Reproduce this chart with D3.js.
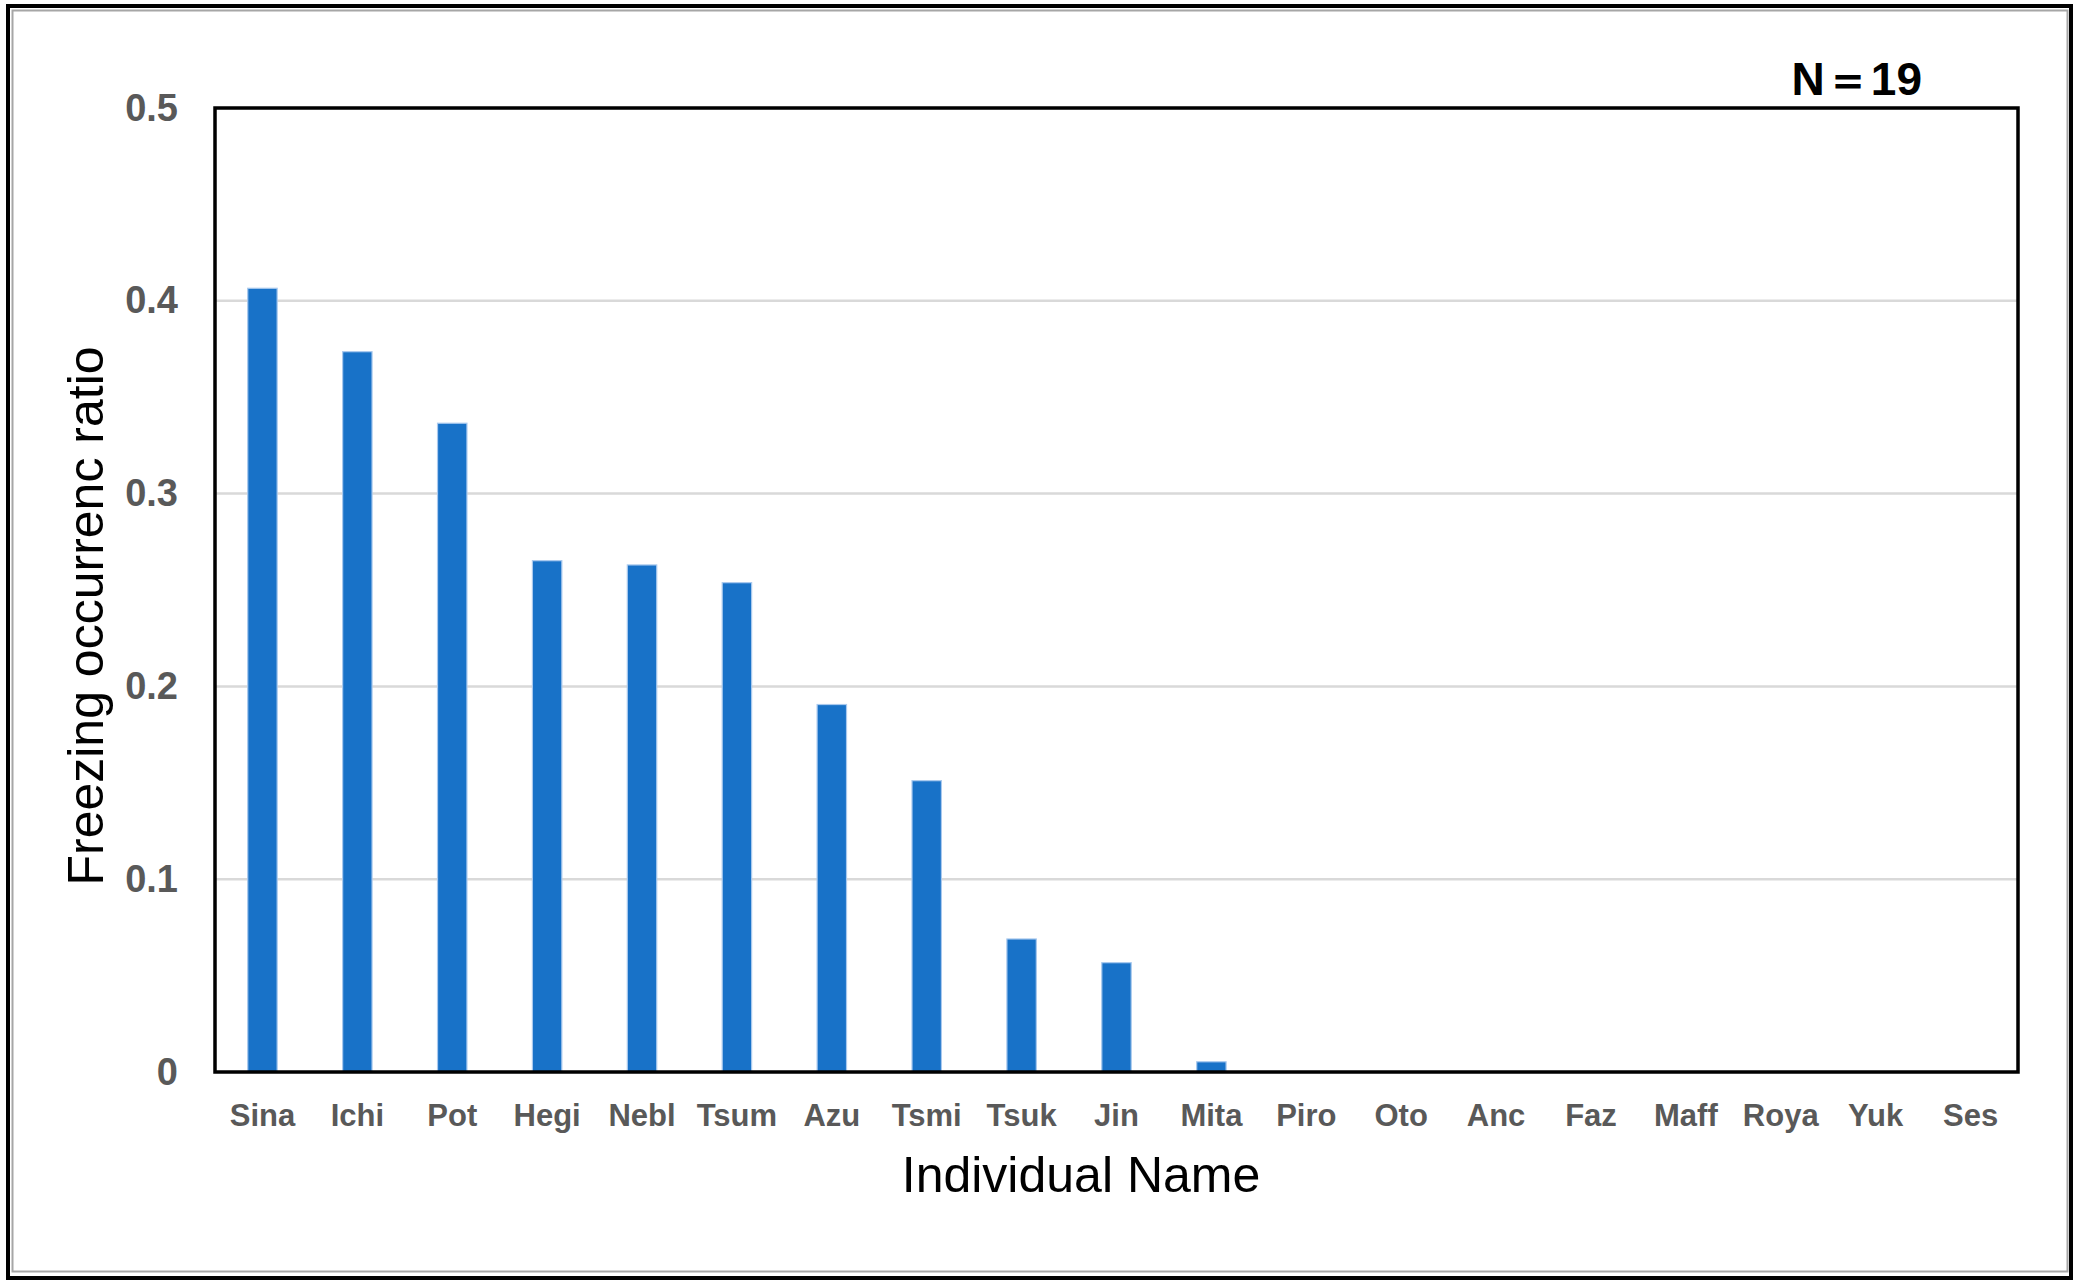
<!DOCTYPE html>
<html>
<head>
<meta charset="utf-8">
<script src="https://cdn.jsdelivr.net/npm/d3@7"></script>
<style>
  body { margin: 0; background: #fff; }
  svg { display: block; font-family: "Liberation Sans", Arial, sans-serif; }
</style>
</head>
<body>
<div id="chart"></div>
<script>
const names = ['Sina', 'Ichi', 'Pot', 'Hegi', 'Nebl', 'Tsum', 'Azu', 'Tsmi', 'Tsuk', 'Jin',
  'Mita', 'Piro', 'Oto', 'Anc', 'Faz', 'Maff', 'Roya', 'Yuk', 'Ses']
const ratios = [0.4065, 0.3736, 0.3365, 0.2652, 0.2630, 0.2538, 0.1906, 0.1511, 0.0690, 0.0567,
  0.0053, 0, 0, 0, 0, 0, 0, 0, 0]
const yTicks = [0, 0.1, 0.2, 0.3, 0.4, 0.5]

const width = 2073
const height = 1288
const plot = { left: 215, right: 2018, top: 108, bottom: 1072 }

const svg = d3.select('#chart')
  .append('svg')
  .attr('width', width)
  .attr('height', height)

// outer frame
svg.append('rect')
  .attr('x', 8).attr('y', 6)
  .attr('width', 2063).attr('height', 1272)
  .attr('fill', '#fff')
  .attr('stroke', '#000')
  .attr('stroke-width', 4)
svg.append('rect')
  .attr('x', 12.5).attr('y', 10.5)
  .attr('width', 2055).attr('height', 1261)
  .attr('fill', 'none')
  .attr('stroke', '#a6a6a6')
  .attr('stroke-width', 2)

const x = d3.scaleBand()
  .domain(names)
  .range([plot.left, plot.right])
  .paddingInner(0.69)
  .paddingOuter(0.345)

const y = d3.scaleLinear()
  .domain([0, 0.5])
  .range([plot.bottom, plot.top])

// gridlines
svg.append('g')
  .selectAll('line')
  .data(yTicks.filter(t => t > 0 && t < 0.5))
  .join('line')
  .attr('x1', plot.left)
  .attr('x2', plot.right)
  .attr('y1', d => y(d))
  .attr('y2', d => y(d))
  .attr('stroke', '#d9d9d9')
  .attr('stroke-width', 2.5)

// bars
svg.append('g')
  .selectAll('rect')
  .data(names.map((n, i) => ({ name: n, value: ratios[i] })).filter(d => d.value > 0))
  .join('rect')
  .attr('x', d => x(d.name))
  .attr('y', d => y(d.value))
  .attr('width', x.bandwidth())
  .attr('height', d => y(0) - y(d.value))
  .attr('fill', '#1872c8')
  .attr('stroke', '#a9c9ee')
  .attr('stroke-width', 1.2)

// plot border
svg.append('rect')
  .attr('x', plot.left)
  .attr('y', plot.top)
  .attr('width', plot.right - plot.left)
  .attr('height', plot.bottom - plot.top)
  .attr('fill', 'none')
  .attr('stroke', '#000')
  .attr('stroke-width', 3.5)

// y axis
const yAxis = svg.append('g')
  .attr('transform', `translate(${plot.left},0)`)
  .call(d3.axisLeft(y)
    .tickValues(yTicks)
    .tickSize(0)
    .tickPadding(37)
    .tickFormat(d => d === 0 ? '0' : d3.format('.1f')(d)))
yAxis.select('.domain').remove()
yAxis.selectAll('text')
  .attr('fill', '#595959')
  .attr('font-size', 38)
  .attr('font-weight', 'bold')
  .attr('font-family', '"Liberation Sans", Arial, sans-serif')

// x axis
const xAxis = svg.append('g')
  .attr('transform', `translate(0,${plot.bottom})`)
  .call(d3.axisBottom(x).tickSize(0).tickPadding(32))
xAxis.select('.domain').remove()
xAxis.selectAll('text')
  .attr('fill', '#595959')
  .attr('font-size', 31)
  .attr('font-weight', 'bold')
  .attr('font-family', '"Liberation Sans", Arial, sans-serif')

// axis titles
svg.append('text')
  .attr('x', 1081)
  .attr('y', 1192)
  .attr('text-anchor', 'middle')
  .attr('font-size', 50)
  .attr('fill', '#000')
  .text('Individual Name')

svg.append('text')
  .attr('transform', 'translate(103,616) rotate(-90)')
  .attr('text-anchor', 'middle')
  .attr('font-size', 50)
  .attr('fill', '#000')
  .text('Freezing occurrenc ratio')

svg.append('text')
  .attr('x', 1922)
  .attr('y', 95)
  .attr('text-anchor', 'end')
  .attr('font-size', 46)
  .attr('font-weight', 'bold')
  .attr('fill', '#000')
  .text('N＝19')
</script>
</body>
</html>
